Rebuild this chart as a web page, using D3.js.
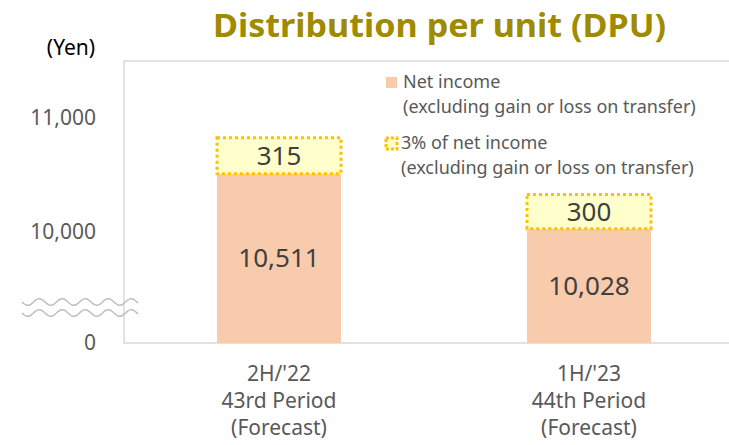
<!DOCTYPE html>
<html>
<head>
<meta charset="utf-8">
<script src="https://cdn.jsdelivr.net/npm/d3@7"></script>
<style>
  body { margin:0; background:#fff; }
  text { font-family:"Noto Sans", "Open Sans", sans-serif; }
</style>
</head>
<body>
<div id="chart"></div>
<script>
// data
var categories = ["2H/'22", "1H/'23"];
var categoryLines = [["2H/'22", "43rd Period", "(Forecast)"], ["1H/'23", "44th Period", "(Forecast)"]];
var netIncome = [10511, 10028];
var threePct = [315, 300];
var tickValues = [0, 10000, 11000];
var legendLabels = [["Net income", "(excluding gain or loss on transfer)"],
                    ["3% of net income", "(excluding gain or loss on transfer)"]];

var width = 729, height = 445;
var margin = { top:61, left:124, bottom:102 };

var svg = d3.select("#chart")
            .append("svg")
            .attr("width", width)
            .attr("height", height);

// broken axis: 0 at the bottom, 10,000 and up drawn to scale
var y = d3.scaleLinear()
    .domain([0, 10000, 11500])
    .range([height - margin.bottom, 232, margin.top]);

var x = d3.scaleBand()
    .domain(categories)
    .range([margin.left, margin.left + 620])
    .paddingInner(0.6)
    .paddingOuter(0.3);

// title
svg.append("text")
   .attr("x", 213)
   .attr("y", 37)
   .attr("textLength", 453)
   .attr("lengthAdjust", "spacingAndGlyphs")
   .style("font-size", "32px")
   .style("font-weight", "bold")
   .style("fill", "#9e8b00")
   .text("Distribution per unit (DPU)");

svg.append("text")
   .attr("x", 71)
   .attr("y", 55)
   .attr("text-anchor", "middle")
   .style("font-size", "21px")
   .style("fill", "#000")
   .text("(Yen)");

// plot frame
svg.append("rect")
   .attr("x", margin.left)
   .attr("y", margin.top)
   .attr("width", 640)
   .attr("height", y(0) - margin.top)
   .attr("fill", "none")
   .attr("stroke", "#d9d9d9")
   .attr("stroke-width", 1.5);

// y axis
var yAxis = d3.axisLeft(y)
    .tickValues(tickValues)
    .tickSize(0)
    .tickPadding(28)
    .tickFormat(d3.format(","));

var ga = svg.append("g")
    .attr("transform", "translate(" + margin.left + ",0)")
    .call(yAxis);
ga.select(".domain").remove();
ga.selectAll("text")
  .style("font-family", "'Noto Sans', sans-serif")
  .style("font-size", "21px")
  .style("fill", "#595959");

// break marks
var wave = d3.line().curve(d3.curveBasis);
[302, 313].forEach(function (yy) {
  var pts = d3.range(0, 117, 2).map(function (t) {
    return [22 + t, yy + 3.5 * Math.sin(t / 23 * 2 * Math.PI)];
  });
  svg.append("path")
     .attr("d", wave(pts))
     .attr("fill", "none")
     .attr("stroke", "#bfbfbf")
     .attr("stroke-width", 1.5);
});

// bars
svg.selectAll(".net-bar")
   .data(netIncome)
   .enter().append("rect")
   .attr("class", "net-bar")
   .attr("x", function (d, i) { return x(categories[i]); })
   .attr("y", function (d) { return y(d); })
   .attr("width", x.bandwidth())
   .attr("height", function (d) { return y(0) - y(d); })
   .attr("fill", "#f8cbad");

svg.selectAll(".pct-bar")
   .data(threePct)
   .enter().append("rect")
   .attr("class", "pct-bar")
   .attr("x", function (d, i) { return x(categories[i]); })
   .attr("y", function (d, i) { return y(netIncome[i] + d); })
   .attr("width", x.bandwidth())
   .attr("height", function (d, i) { return y(netIncome[i]) - y(netIncome[i] + d); })
   .attr("fill", "#ffffcc")
   .attr("stroke", "#ffc000")
   .attr("stroke-width", 3)
   .attr("stroke-dasharray", "3,3");

// value labels
svg.selectAll(".net-label")
   .data(netIncome)
   .enter().append("text")
   .attr("class", "net-label")
   .attr("x", function (d, i) { return x(categories[i]) + x.bandwidth() / 2; })
   .attr("y", function (d) { return (y(d) + y(0)) / 2; })
   .attr("dy", "0.35em")
   .attr("text-anchor", "middle")
   .style("font-size", "26px")
   .style("fill", "#404040")
   .text(function (d) { return d3.format(",")(d); });

svg.selectAll(".pct-label")
   .data(threePct)
   .enter().append("text")
   .attr("class", "pct-label")
   .attr("x", function (d, i) { return x(categories[i]) + x.bandwidth() / 2; })
   .attr("y", function (d, i) { return (y(netIncome[i]) + y(netIncome[i] + d)) / 2; })
   .attr("dy", "0.35em")
   .attr("text-anchor", "middle")
   .style("font-size", "26px")
   .style("fill", "#404040")
   .text(function (d) { return d; });

// category labels
categoryLines.forEach(function (lines, i) {
  var t = svg.append("text")
     .attr("text-anchor", "middle")
     .style("font-size", "21px")
     .style("fill", "#595959");
  lines.forEach(function (l, j) {
    t.append("tspan")
     .attr("x", x(categories[i]) + x.bandwidth() / 2)
     .attr("y", 381 + j * 27)
     .text(l);
  });
});

// legend
var legend = svg.append("g").attr("transform", "translate(386,0)");
legend.append("rect")
   .attr("x", 0).attr("y", 77)
   .attr("width", 11).attr("height", 11)
   .attr("fill", "#f8cbad");
legend.append("rect")
   .attr("x", 0).attr("y", 138)
   .attr("width", 11).attr("height", 11)
   .attr("fill", "#ffffcc")
   .attr("stroke", "#ffc000")
   .attr("stroke-width", 3)
   .attr("stroke-dasharray", "3,2");

legendLabels.forEach(function (lines, i) {
  var t = legend.append("text")
     .style("font-size", "18px")
     .style("fill", "#595959");
  lines.forEach(function (l, j) {
    t.append("tspan")
     .attr("x", i == 0 ? 17 : 15)
     .attr("y", 88 + i * 61 + j * 25)
     .text(l);
  });
});
</script>
</body>
</html>
